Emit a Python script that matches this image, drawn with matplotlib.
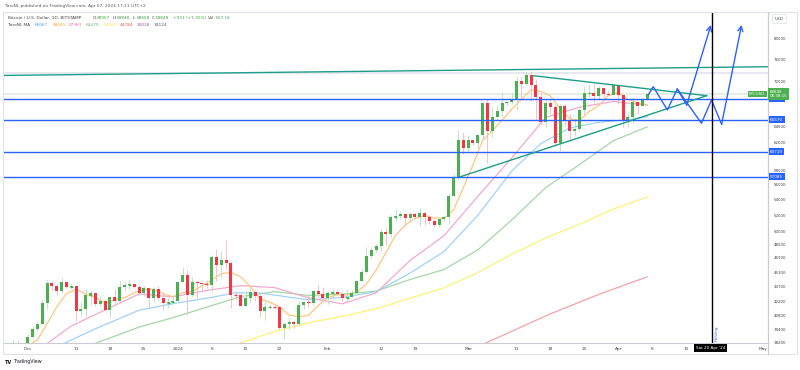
import matplotlib
matplotlib.use('Agg')
import matplotlib.pyplot as plt
import matplotlib.dates as mdates
import numpy as np
import pandas as pd
from matplotlib.patches import Rectangle
from matplotlib.transforms import blended_transform_factory
from matplotlib.ticker import FixedLocator, NullLocator

plt.rcParams['font.family'] = ['DejaVu Sans']

# ---------------- data ----------------
dates = pd.date_range('2023-11-26', '2024-04-07', freq='D')

opens = [37790, 37450, 37240, 37830, 37860,
         37720, 38690, 39470, 39980, 41980, 44080, 43770, 43290, 44170, 43720, 43790, 41240, 41450, 42890, 43020, 41930,
         42240, 41360, 42660, 42260, 43650, 43870, 43990, 43720, 43010, 43580, 42510, 43440, 42580, 42070, 42140,
         42270, 44170, 44950, 42850, 44180, 44160, 43970, 43930, 46970, 46120, 46660, 46350, 42850, 42840, 41730,
         42510, 43150, 42740, 41260, 41620, 41660, 41580, 39570, 39900, 40080, 39930, 41820, 42120, 42030, 43300, 42950,
         42580, 43080, 43190, 43000, 42580, 42660, 43080, 44340, 45300, 47150, 47770, 48290, 49960, 49700, 51800,
         51940, 52160, 51660, 52120, 51780, 52280, 51850, 51300, 50740, 51570, 51730, 54520, 57090, 62500,
         61200, 62440, 62030, 63170, 68330, 63800, 66100, 66930, 68300, 68500, 69020, 72120, 71480, 73080, 71400,
         69400, 65300, 68390, 67610, 61930, 67840, 65500, 63800, 64100, 67230, 69950, 69990, 69450, 70780, 69890, 69650,
         71300, 69650, 65460, 65990, 68500, 67840, 68907]
highs = [37820, 37560, 38380, 38420, 38170,
         38990, 39700, 40200, 42400, 44490, 44300, 44050, 44700, 44360, 44040, 43800, 42100, 43430, 43400, 43090,
         42700, 42430, 42750, 43480, 44280, 44230, 44400, 44010, 43940, 43800, 43600, 43680, 43800, 43120, 42600, 42890,
         44200, 45880, 45500, 44730, 44330, 44200, 44480, 47240, 47890, 47650, 48970, 46500, 43250, 43060, 43380,
         43580, 43190, 42930, 42150, 41870, 41870, 41650, 40120, 40500, 40280, 42200, 42200, 42840, 43310, 43880, 43740,
         43260, 43480, 43380, 43120, 43500, 43400, 44370, 45600, 48200, 48170, 48560, 50330, 50370, 52050, 52820,
         52570, 52200, 52380, 52480, 52980, 52380, 52060, 51530, 51700, 51960, 54930, 57550, 64000, 63680,
         63150, 62440, 63250, 68500, 69000, 67600, 67990, 69970, 68580, 69980, 72800, 72900, 73650, 73750, 72400,
         70000, 68900, 68920, 68100, 68100, 68200, 66600, 65900, 67500, 71200, 71550, 71700, 71200, 70900, 70300, 71400,
         71300, 69650, 66900, 69250, 68700, 69000, 69848]
lows = [37150, 36700, 36880, 37600, 37500,
        37620, 38650, 39280, 39980, 41420, 43350, 42800, 43080, 43580, 43590, 40220, 40680, 40600, 41800, 41670,
        41700, 41250, 40550, 41820, 42200, 43300, 43430, 43570, 42800, 42760, 41650, 42100, 42300, 41300, 41520, 41960,
        42190, 44170, 40800, 42630, 42500, 43400, 43580, 43200, 44300, 44700, 45600, 41500, 42450, 41700, 41710,
        42050, 42200, 40660, 40280, 41450, 41500, 39440, 38500, 39480, 39530, 39820, 41400, 41620, 41800, 42680, 42300,
        41880, 42580, 42880, 42220, 42260, 42600, 42800, 44330, 45250, 46900, 47550, 47700, 48350, 49300, 51320,
        51580, 50640, 51180, 51700, 50620, 50830, 50950, 50550, 50580, 51300, 50920, 54450, 56700, 60380,
        60800, 61660, 61300, 62380, 59000, 62850, 65600, 66100, 67900, 68200, 67200, 68800, 71330, 68600, 65600,
        64800, 64500, 66600, 61550, 60800, 64600, 62300, 63100, 63800, 66400, 69250, 68400, 68900, 69100, 69550, 69600,
        68100, 64500, 64500, 65100, 66600, 67800, 68858]
closes = [37450, 37240, 37830, 37860, 37720,
          38690, 39470, 39980, 41980, 44080, 43770, 43290, 44170, 43720, 43790, 41240, 41450, 42890, 43020, 41930,
          42240, 41360, 42660, 42260, 43650, 43870, 43990, 43720, 43010, 43580, 42510, 43440, 42580, 42070, 42140, 42270,
          44170, 44950, 42850, 44180, 44160, 43970, 43930, 46970, 46120, 46660, 46350, 42850, 42840, 41730, 42510,
          43150, 42740, 41260, 41620, 41660, 41580, 39570, 39900, 40080, 39930, 41820, 42120, 42030, 43300, 42950, 42580,
          43080, 43190, 43000, 42580, 42660, 43080, 44340, 45300, 47150, 47770, 48290, 49960, 49700, 51800, 51940,
          52160, 51660, 52120, 51780, 52280, 51850, 51300, 50740, 51570, 51730, 54520, 57090, 62500, 61200,
          62440, 62030, 63170, 68330, 63800, 66100, 66930, 68300, 68500, 69020, 72120, 71480, 73080, 71400, 69400,
          65300, 68390, 67610, 61930, 67840, 65500, 63800, 64100, 67230, 69950, 69990, 69450, 70780, 69890, 69650, 71300,
          69650, 65460, 65990, 68500, 67840, 68900, 69848]

# moving averages
ma_orange_dates = ['2023-11-30', '2023-12-03', '2023-12-05', '2023-12-07', '2023-12-09', '2023-12-11', '2023-12-13',
                   '2023-12-15', '2023-12-17', '2023-12-19', '2023-12-21', '2023-12-23', '2023-12-25', '2023-12-27',
                   '2023-12-29', '2023-12-31', '2024-01-02', '2024-01-04', '2024-01-06', '2024-01-08', '2024-01-10',
                   '2024-01-12', '2024-01-14', '2024-01-16', '2024-01-18', '2024-01-20', '2024-01-22', '2024-01-24',
                   '2024-01-26', '2024-01-28', '2024-01-30', '2024-02-01', '2024-02-03', '2024-02-05', '2024-02-07',
                   '2024-02-09', '2024-02-11', '2024-02-13', '2024-02-15', '2024-02-17', '2024-02-19', '2024-02-21',
                   '2024-02-23', '2024-02-25', '2024-02-27', '2024-02-29', '2024-03-02', '2024-03-04', '2024-03-06',
                   '2024-03-08', '2024-03-10', '2024-03-12', '2024-03-14', '2024-03-16', '2024-03-18', '2024-03-20',
                   '2024-03-22', '2024-03-24', '2024-03-26', '2024-03-28', '2024-03-30', '2024-04-01', '2024-04-03',
                   '2024-04-05', '2024-04-07']
ma_orange = [37659, 38399, 39969, 41609, 42999, 43437, 42936, 42577, 42019, 42337, 42567, 43073, 43440, 43446,
             42987, 42656, 43089, 43233, 43793, 44430, 45141, 45264, 44789, 43727, 42440, 42096, 41654, 40810,
             40649, 40779, 41747, 42554, 42876, 42863, 43133, 44016, 45513, 47501, 49516, 50787, 51594, 51970,
             51676, 51607, 52686, 55621, 58787, 62394, 63867, 65523, 67283, 68921, 70557, 70257, 69523, 67410,
             65767, 65430, 66916, 67900, 69563, 70101, 68960, 68341, 68045]

ma_weekly_dates = ['2023-12-03', '2023-12-10', '2023-12-17', '2023-12-24', '2023-12-31', '2024-01-07', '2024-01-14',
                   '2024-01-21', '2024-01-28', '2024-02-04', '2024-02-11', '2024-02-18', '2024-02-25', '2024-03-03',
                   '2024-03-10', '2024-03-17', '2024-03-24', '2024-03-31', '2024-04-07']
ma_pink = [37444, 39740, 41320, 42957, 42661, 43331, 43825, 43631, 42547, 41936, 43082, 46600, 49485, 54454,
           59770, 65957, 67627, 68580, 67983]
ma_green = [35225, 37291, 38433, 39633, 40551, 41605, 42678, 43203, 42808, 42941, 43256, 44496, 45579, 47812,
            51413, 55611, 58822, 62341, 64470]

ma_blue_dates = ['2023-12-08', '2023-12-16', '2023-12-24', '2024-01-01', '2024-01-08', '2024-01-13', '2024-01-18',
                 '2024-01-23', '2024-01-28', '2024-02-04', '2024-02-11', '2024-02-18', '2024-02-25', '2024-03-03',
                 '2024-03-10', '2024-03-16', '2024-03-22', '2024-03-28', '2024-04-03', '2024-04-07']
ma_blue = [38000, 39680, 41290, 42040, 42600, 43080, 43050, 42700, 42350, 42600, 43200, 45200, 47600, 52000,
           57900, 61900, 64300, 65200, 65600, 66067]

ma_yellow_dates = ['2024-01-07', '2024-01-14', '2024-01-21', '2024-01-28', '2024-02-04', '2024-02-11', '2024-02-18',
                   '2024-02-25', '2024-03-03', '2024-03-10', '2024-03-17', '2024-03-24', '2024-03-31', '2024-04-07']
ma_yellow = [36921, 38142, 39214, 40050, 40687, 41445, 42524, 43591, 45245, 47308, 49209, 50882, 52799, 54361]

ma_red_dates = ['2024-03-04', '2024-03-18', '2024-03-28', '2024-04-07']
ma_red = [38000, 40930, 42910, 44784]

# horizontal levels and drawings
levels = [68995, 65570, 60719, 57085]
top_line_dates = ['2023-11-20', '2024-05-10']
top_line_prices = [73000, 74700]
tri_upper_dates = ['2024-03-14 10:00', '2024-04-19 07:00']
tri_upper_prices = [73020, 69550]
tri_lower_dates = ['2024-02-28 07:00', '2024-04-19 07:00']
tri_lower_prices = [57090, 69550]
pathA_dates = ['2024-04-07 05:00', '2024-04-08 06:00', '2024-04-11 04:00', '2024-04-13 05:00', '2024-04-15 04:00',
               '2024-04-20 04:00']
pathA_prices = [69670, 71090, 67180, 70690, 67995, 82590]
pathB_dates = ['2024-04-13 05:00', '2024-04-18 05:00', '2024-04-20 07:00', '2024-04-22 09:00', '2024-04-26 12:00']
pathB_prices = [70690, 65040, 68830, 64880, 82590]
halving_date = '2024-04-20 08:00'

y_ticks = [80000, 76000, 72000, 64500, 62000, 58000, 56000, 54000, 52000, 50000, 48500, 46900, 45300, 43700,
           42200, 40800, 39400, 38200]
x_tick_dates = ['2023-12-01', '2023-12-11', '2023-12-18', '2023-12-25', '2024-01-01', '2024-01-08', '2024-01-15',
                '2024-01-22', '2024-02-01', '2024-02-12', '2024-02-19', '2024-03-01', '2024-03-11', '2024-03-18',
                '2024-03-25', '2024-04-01', '2024-04-08', '2024-04-15', '2024-05-01']
x_tick_labels = ['Dec', '11', '18', '25', '2024', '8', '15', '22', 'Feb', '12', '19', 'Mar', '11', '18', '25',
                 'Apr', '8', '15', 'May']

# ---------------- figure ----------------
W, H = 800, 370
fig = plt.figure(figsize=(8, 3.7), dpi=100)
fig.patch.set_facecolor('white')
ax = fig.add_axes([4 / W, (H - 343) / H, (768 - 4) / W, (343 - 12) / H])
ax.set_yscale('log')
d0 = mdates.date2num(pd.Timestamp('2023-12-01'))
ax.set_xlim(d0 - 4.9, d0 + 152.96)
ax.set_ylim(38130, 85236)


def dn(lst):
    return mdates.date2num(pd.to_datetime(lst, format='mixed'))


xs = dn(dates)
o = np.array(opens, float); h = np.array(highs, float)
l = np.array(lows, float); c = np.array(closes, float)
up = c >= o
GREEN, RED = '#4caf50', '#f23645'
body_col = np.where(up, GREEN, RED)
wick_col = np.where(up, '#b9dcc0', '#f7b8bd')

# moving averages
ax.plot(dn(ma_yellow_dates), ma_yellow, color='#fff176', lw=0.9, zorder=2)
ax.plot(dn(ma_red_dates), ma_red, color='#f4a3a3', lw=0.9, zorder=2)
ax.plot(dn(ma_weekly_dates), ma_green, color='#a5d6a7', lw=0.9, zorder=2)
ax.plot(dn(ma_blue_dates), ma_blue, color='#9fd3fb', lw=0.9, zorder=2)
ax.plot(dn(ma_weekly_dates), ma_pink, color='#f4a9cc', lw=0.9, zorder=2)
ax.plot(dn(ma_orange_dates), ma_orange, color='#ffc680', lw=0.9, zorder=2)

# faint lines
ax.axhline(73580, color='#e6e8ee', lw=1.4, zorder=1)
ax.axhline(69848, color='#e3eee4', lw=1.4, zorder=1)

# candles
ax.vlines(xs, l, h, colors=wick_col, lw=0.6, zorder=3)
ax.bar(xs, c - o, bottom=o, width=0.62, color=body_col, linewidth=0, zorder=4)
small = np.abs(c - o) < 150
ax.hlines(o[small], xs[small] - 0.31, xs[small] + 0.31, colors=body_col[small], lw=0.9, zorder=4)

# horizontal levels
BLUE = '#2962ff'
for lv in levels:
    ax.axhline(lv, color=BLUE, lw=1.0, zorder=5)

# trend lines
TEAL = '#1e9e8a'
ax.plot(dn(top_line_dates), top_line_prices, color=TEAL, lw=1.0, zorder=5)
ax.plot(dn(tri_upper_dates), tri_upper_prices, color=TEAL, lw=1.0, zorder=5)
ax.plot(dn(tri_lower_dates), tri_lower_prices, color=TEAL, lw=1.0, zorder=5)

# projection paths with arrows
for pdates, pp in ((pathA_dates, pathA_prices), (pathB_dates, pathB_prices)):
    px = dn(pdates)
    ax.plot(px[:-1], pp[:-1], color=BLUE, lw=1.0, zorder=6)
    ax.annotate('', xy=(px[-1], pp[-1]), xytext=(px[-2], pp[-2]),
                arrowprops=dict(arrowstyle='->,head_length=0.35,head_width=0.18', color=BLUE, lw=1.0,
                                shrinkA=0, shrinkB=0), zorder=6)

# halving vertical line
halv = dn([halving_date])[0]
ax.axvline(halv, color='black', lw=1.0, zorder=6)
ax.text(halv + 1.0, 38320, 'Halving', rotation=90, color=BLUE, fontsize=3.0, ha='center', va='bottom', zorder=7)

# axes styling
for s in ['top', 'left']:
    ax.spines[s].set_visible(False)
for s in ['bottom', 'right']:
    ax.spines[s].set_color('#c9ccd3')
    ax.spines[s].set_linewidth(0.8)
ax.yaxis.tick_right()
ax.yaxis.set_major_locator(FixedLocator(y_ticks))
ax.yaxis.set_minor_locator(NullLocator())
ax.set_yticklabels([str(v) for v in y_ticks])
ax.tick_params(axis='y', which='both', length=0, pad=4, labelsize=2.9, labelcolor='#444')
ax.xaxis.set_major_locator(FixedLocator(dn(x_tick_dates)))
ax.xaxis.set_minor_locator(NullLocator())
ax.set_xticklabels(x_tick_labels)
ax.tick_params(axis='x', which='both', length=0, pad=3.2, labelsize=3.1, labelcolor='#444')
ax.set_facecolor('white')

# price-axis labels
tr = blended_transform_factory(fig.transFigure, ax.transData)


def axis_box(price, text, fc, size=3.0):
    fig.text(770 / W, price, text, transform=tr, fontsize=size, color='white', ha='left', va='center',
             bbox=dict(boxstyle='square,pad=0.35', fc=fc, ec='none'), zorder=10)


for lv in levels:
    axis_box(lv, str(lv), BLUE)
fig.text(769.5 / W, 69848, '69848\n08:38:15', transform=tr, fontsize=2.9, color='white', ha='left',
         va='center', linespacing=1.1,
         bbox=dict(boxstyle='square,pad=0.45', fc='#4caf50', ec='none'), zorder=11)
fig.text(749 / W, 69848, 'BTCUSD', transform=tr, fontsize=2.9, color='white', ha='left', va='center',
         bbox=dict(boxstyle='square,pad=0.35', fc='#4caf50', ec='none'), zorder=11)
fig.text(775 / W, 1 - 19 / H, 'USD', fontsize=3.0, color='#444', ha='left', va='center',
         bbox=dict(boxstyle='round,pad=0.6,rounding_size=0.3', fc='white', ec='#e0e3eb', lw=0.6), zorder=11)

# date box on x axis
fig.text(710.7 / W, 1 - 348 / H, "Sat 20 Apr '24", fontsize=3.0, color='white', ha='center',
         va='center', bbox=dict(boxstyle='square,pad=0.4', fc='black', ec='none'), zorder=11)

# outer frame
fig.add_artist(Rectangle((3 / W, (H - 354) / H), 794 / W, 342 / H, transform=fig.transFigure, fill=False,
                         ec='#e0e3eb', lw=0.8))
fig.add_artist(plt.Line2D([768 / W, 768 / W], [(H - 354) / H, (H - 12) / H], transform=fig.transFigure,
                          color='#c9ccd3', lw=0.8))


# header texts
def ftext(x, y, s, color, size=3.1, weight='normal'):
    fig.text(x / W, 1 - y / H, s, fontsize=size, color=color, ha='left', va='center', fontweight=weight)


ftext(5, 6, 'TaroNL published on TradingView.com, Apr 07, 2024 17:21 UTC+2', '#555')
ftext(8, 18, 'Bitcoin / U.S. Dollar, 1D, BITSTAMP', '#444')
GV = '#43a047'
for x, lab, val in ((92.7, 'O', '68907'), (113, 'H', '69848'), (132.7, 'L', '68858'), (151.7, 'C', '69848')):
    ftext(x, 18, lab, '#444')
    ftext(x + 3.6, 18, val, GV)
ftext(173, 18, '+931 (+1.35%)', GV)
ftext(208, 18, 'Vol', '#444')
ftext(215.5, 18, '617.16', GV)
ftext(8, 25, 'TaroNL MA', '#444')
for x, val, col in ((34.7, '66067', '#42a5f5'), (52.7, '68045', '#ffa726'), (69, '67983', '#ec6fa5'),
                    (86, '64470', '#66bb6a'), (103.3, '54361', '#f9e04b'), (120, '44784', '#ef5350'),
                    (136.7, '30018', '#ab47bc'), (153.3, '33124', '#555')):
    ftext(x, 25, val, col)

# footer logo
ftext(5, 362, 'TV', '#131722', size=3.6, weight='bold')
ftext(14, 362, 'TradingView', '#131722', size=3.4)

fig.savefig('out.png', dpi=100, facecolor='white')
